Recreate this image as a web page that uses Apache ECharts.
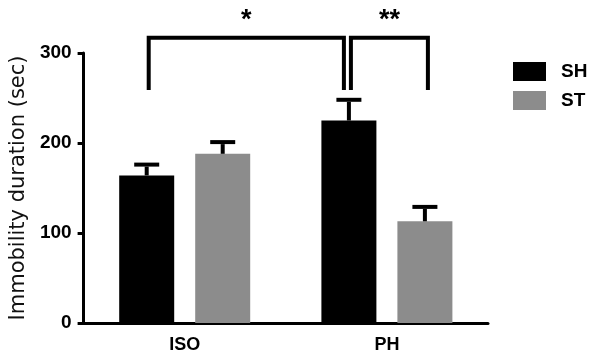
<!DOCTYPE html>
<html>
<head>
<meta charset="utf-8">
<script src="https://cdn.jsdelivr.net/npm/echarts@6/dist/echarts.min.js"></script>
<style>
  html, body { margin: 0; padding: 0; background: #fff; }
  #chart { width: 600px; height: 363px; }
</style>
</head>
<body>
<div id="chart"></div>
<script>
const categories = ['ISO', 'PH'];
const seriesNames = ['SH', 'ST'];
const shMean = [164, 225];
const shSem = [12, 23];
const stMean = [188, 113];
const stSem = [13, 16];
// brackets: [fromCat, fromSeries, toCat, toSeries, legBottom, top]
const brackets = [
  [0, 0, 1, 0, 259, 317],
  [1, 0, 1, 1, 259, 317]
];
const bracketLabels = ['*', '**'];

const BAR_W = 55;
const BAR_GAP = 21;
const colors = ['#000000', '#8c8c8c'];
const font = '"Liberation Sans", Arial, sans-serif';

const chart = echarts.init(document.getElementById('chart'));

// x offset of a bar inside its category band
const barOffset = (s) => (s === 0 ? -1 : 1) * (BAR_W + BAR_GAP) / 2;

function errorSeries(mean, sem, idx) {
  return {
    type: 'custom',
    name: seriesNames[idx] + ' err',
    data: mean.map((m, i) => [i, m, sem[i]]),
    encode: { x: 0, y: 1 },
    z: 3,
    renderItem: (params, api) => {
      const base = api.coord([api.value(0), api.value(1)]);
      const top = api.coord([api.value(0), api.value(1) + api.value(2)]);
      const x = base[0] + barOffset(idx);
      const style = { stroke: '#000', lineWidth: 4 };
      return {
        type: 'group',
        children: [
          { type: 'line', shape: { x1: x, y1: base[1], x2: x, y2: top[1] + 2 }, style },
          { type: 'line', shape: { x1: x - 12.5, y1: top[1], x2: x + 12.5, y2: top[1] }, style }
        ]
      };
    }
  };
}

const option = {
  animation: false,
  grid: { left: 82, right: 112, top: 53, bottom: 40 },
  legend: {
    data: seriesNames,
    orient: 'vertical',
    left: 508,
    top: 57,
    itemWidth: 33,
    itemHeight: 19,
    itemGap: 10,
    icon: 'rect',
    textStyle: { fontFamily: font, fontWeight: 'bold', fontSize: 19, color: '#000', padding: [0, 0, 0, 10] }
  },
  xAxis: {
    type: 'category',
    data: categories,
    axisLine: { lineStyle: { color: '#000', width: 3 } },
    axisTick: { alignWithLabel: true, length: 6, lineStyle: { width: 3, color: '#000' } },
    axisLabel: { fontFamily: font, fontWeight: 'bold', fontSize: 18, color: '#000', margin: 13 }
  },
  yAxis: {
    type: 'value',
    min: 0,
    max: 300,
    interval: 100,
    name: 'Immobility duration (sec)',
    nameLocation: 'middle',
    nameGap: 50,
    nameTextStyle: { fontFamily: '"DejaVu Sans", sans-serif', fontSize: 21, color: '#111' },
    axisLine: { show: true, lineStyle: { color: '#000', width: 3 } },
    axisTick: { show: true, length: 6, lineStyle: { width: 3, color: '#000' } },
    axisLabel: { fontFamily: font, fontWeight: 'bold', fontSize: 19, color: '#000', margin: 12 },
    splitLine: { show: false }
  },
  series: [
    {
      name: 'SH', type: 'bar', data: shMean, barWidth: BAR_W,
      barGap: (BAR_GAP / BAR_W * 100) + '%', itemStyle: { color: colors[0] }
    },
    {
      name: 'ST', type: 'bar', data: stMean, barWidth: BAR_W,
      itemStyle: { color: colors[1] }
    },
    errorSeries(shMean, shSem, 0),
    errorSeries(stMean, stSem, 1),
    {
      type: 'custom',
      name: 'brackets',
      data: brackets,
      encode: { x: 0, y: 4 },
      clip: false,
      z: 4,
      renderItem: (params, api) => {
        const i = params.dataIndex;
        const a = api.coord([api.value(0), api.value(4)]);
        const b = api.coord([api.value(2), api.value(5)]);
        // small inset so adjacent brackets do not touch
        const x1 = a[0] + barOffset(api.value(1)) + 2;
        const x2 = api.coord([api.value(2), 0])[0] + barOffset(api.value(3)) + (i === 0 ? -5 : 3);
        const yb = a[1];
        const yt = b[1];
        const style = { stroke: '#000', lineWidth: 4, fill: null, lineJoin: 'miter' };
        return {
          type: 'group',
          children: [
            { type: 'polyline', shape: { points: [[x1, yb], [x1, yt], [x2, yt], [x2, yb]] }, style },
            {
              type: 'text',
              style: {
                text: bracketLabels[i], x: (x1 + x2) / 2, y: yt - 4,
                align: 'center', verticalAlign: 'bottom',
                font: 'bold 27px ' + font, fill: '#000'
              }
            }
          ]
        };
      }
    }
  ]
};

chart.setOption(option);
</script>
</body>
</html>
